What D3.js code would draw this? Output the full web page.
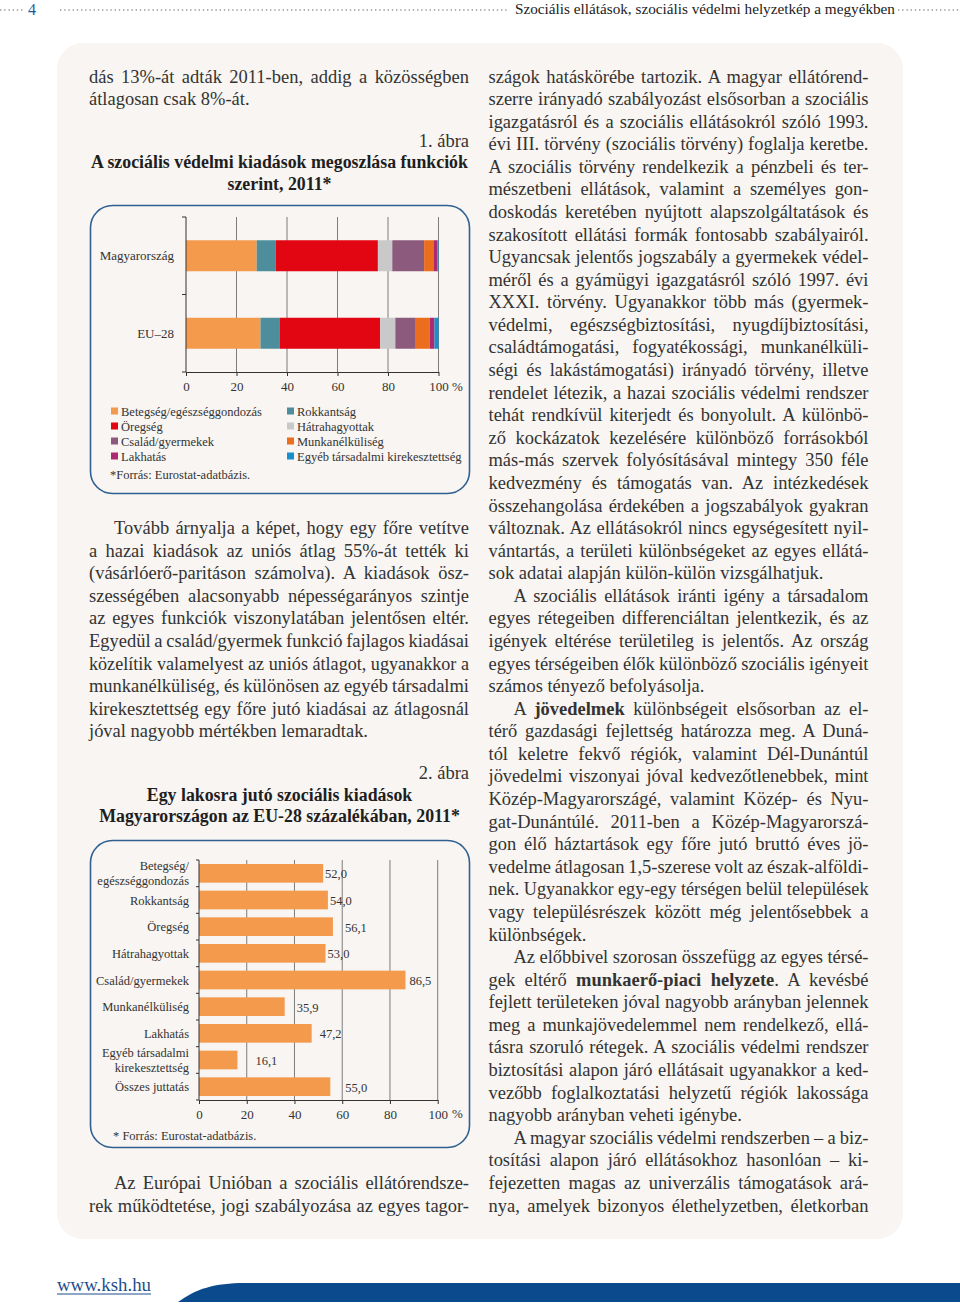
<!DOCTYPE html>
<html><head><meta charset="utf-8">
<script src="https://cdn.jsdelivr.net/npm/d3@7"></script>
<style>
body{margin:0;background:#fff;}
svg text{font-family:"Liberation Serif","DejaVu Serif",serif;}
</style></head><body>
<svg id="page" width="960" height="1308"></svg>
<script>
// ---------------- DATA ----------------
// Figure 1: distribution of social protection expenditure by function, 2011 (%)
const functions1 = ["Betegség/egészséggondozás","Rokkantság","Öregség","Hátrahagyottak","Család/gyermekek","Munkanélküliség","Lakhatás","Egyéb társadalmi kirekesztettség"];
const countries1 = ["Magyarország","EU–28"];
const huShares = [28.0, 7.6, 40.4, 5.7, 12.6, 3.7, 1.6, 0.4];
const euShares = [29.5, 7.7, 39.7, 6.0, 8.1, 5.5, 1.9, 1.6];
const colors1 = ["#f39a4c","#4e8e9c","#e20612","#c9c9c9","#8c5a7d","#ea6e1d","#ae2a70","#1b8ecc"];
const xTicks = [0,20,40,60,80,100];
// Figure 2: per capita social expenditure in Hungary as % of EU-28, 2011
const categories2 = ["Betegség/\negészséggondozás","Rokkantság","Öregség","Hátrahagyottak","Család/gyermekek","Munkanélküliség","Lakhatás","Egyéb társadalmi\nkirekesztettség","Összes juttatás"];
const values2 = [52.0, 54.0, 56.1, 53.0, 86.5, 35.9, 47.2, 16.1, 55.0];
// layout only: horizontal nudges of the value labels as in the original
const labelNudge = [2, 2, 12, 2, 4, 12, 8, 18, 15];

// ---------------- TEXT ----------------
const leftTop = {indent:false, cont:false, lines:[
 "dás 13%-át adták 2011-ben, addig a közösségben",
 "átlagosan csak 8%-át."]};
const leftMid = {indent:true, cont:false, lines:[
 "Tovább árnyalja a képet, hogy egy főre vetítve",
 "a hazai kiadások az uniós átlag 55%-át tették ki",
 "(vásárlóerő-paritáson számolva). A kiadások ösz-",
 "szességében alacsonyabb népességarányos szintje",
 "az egyes funkciók viszonylatában jelentősen eltér.",
 "Egyedül a család/gyermek funkció fajlagos kiadásai",
 "közelítik valamelyest az uniós átlagot, ugyanakkor a",
 "munkanélküliség, és különösen az egyéb társadalmi",
 "kirekesztettség egy főre jutó kiadásai az átlagosnál",
 "jóval nagyobb mértékben lemaradtak."]};
const leftBottom = {indent:true, cont:true, lines:[
 "Az Európai Unióban a szociális ellátórendsze-",
 "rek működtetése, jogi szabályozása az egyes tagor-"]};
const rightCol = [
 {indent:false, cont:false, lines:[
 "szágok hatáskörébe tartozik. A magyar ellátórend-",
 "szerre irányadó szabályozást elsősorban a szociális",
 "igazgatásról és a szociális ellátásokról szóló 1993.",
 "évi III. törvény (szociális törvény) foglalja keretbe.",
 "A szociális törvény rendelkezik a pénzbeli és ter-",
 "mészetbeni ellátások, valamint a személyes gon-",
 "doskodás keretében nyújtott alapszolgáltatások és",
 "szakosított ellátási formák fontosabb szabályairól.",
 "Ugyancsak jelentős jogszabály a gyermekek védel-",
 "méről és a gyámügyi igazgatásról szóló 1997. évi",
 "XXXI. törvény. Ugyanakkor több más (gyermek-",
 "védelmi, egészségbiztosítási, nyugdíjbiztosítási,",
 "családtámogatási, fogyatékossági, munkanélküli-",
 "ségi és lakástámogatási) irányadó törvény, illetve",
 "rendelet létezik, a hazai szociális védelmi rendszer",
 "tehát rendkívül kiterjedt és bonyolult. A különbö-",
 "ző kockázatok kezelésére különböző forrásokból",
 "más-más szervek folyósításával mintegy 350 féle",
 "kedvezmény és támogatás van. Az intézkedések",
 "összehangolása érdekében a jogszabályok gyakran",
 "változnak. Az ellátásokról nincs egységesített nyil-",
 "vántartás, a területi különbségeket az egyes ellátá-",
 "sok adatai alapján külön-külön vizsgálhatjuk."]},
 {indent:true, cont:false, lines:[
 "A szociális ellátások iránti igény a társadalom",
 "egyes rétegeiben differenciáltan jelentkezik, és az",
 "igények eltérése területileg is jelentős. Az ország",
 "egyes térségeiben élők különböző szociális igényeit",
 "számos tényező befolyásolja."]},
 {indent:true, cont:false, lines:[
 "A **jövedelmek** különbségeit elsősorban az el-",
 "térő gazdasági fejlettség határozza meg. A Duná-",
 "tól keletre fekvő régiók, valamint Dél-Dunántúl",
 "jövedelmi viszonyai jóval kedvezőtlenebbek, mint",
 "Közép-Magyarországé, valamint Közép- és Nyu-",
 "gat-Dunántúlé. 2011-ben a Közép-Magyarorszá-",
 "gon élő háztartások egy főre jutó bruttó éves jö-",
 "vedelme átlagosan 1,5-szerese volt az észak-alföldi-",
 "nek. Ugyanakkor egy-egy térségen belül települések",
 "vagy településrészek között még jelentősebbek a",
 "különbségek."]},
 {indent:true, cont:false, lines:[
 "Az előbbivel szorosan összefügg az egyes térsé-",
 "gek eltérő **munkaerő-piaci helyzete**. A kevésbé",
 "fejlett területeken jóval nagyobb arányban jelennek",
 "meg a munkajövedelemmel nem rendelkező, ellá-",
 "tásra szoruló rétegek. A szociális védelmi rendszer",
 "biztosítási alapon járó ellátásait ugyanakkor a ked-",
 "vezőbb foglalkoztatási helyzetű régiók lakossága",
 "nagyobb arányban veheti igénybe."]},
 {indent:true, cont:true, lines:[
 "A magyar szociális védelmi rendszerben – a biz-",
 "tosítási alapon járó ellátásokhoz hasonlóan – ki-",
 "fejezetten magas az univerzális támogatások ará-",
 "nya, amelyek bizonyos élethelyzetben, életkorban"]}
];

// ---------------- DRAW ----------------
const svg = d3.select("#page");
const ink = "#333";
const frameColor = "#2f6090";

// page panel
svg.append("rect").attr("x",57).attr("y",43).attr("width",846).attr("height",1196)
  .attr("rx",26).attr("fill","#f8f5f2");

// header
function dots(x1,x2,y){
  svg.append("line").attr("x1",x1).attr("x2",x2).attr("y1",y).attr("y2",y)
    .attr("stroke","#9a9a9a").attr("stroke-width",1.6).attr("stroke-dasharray","1.4,2.8");
}
dots(0,24,10); dots(60,509,10); dots(898,960,10);
svg.append("text").attr("x",28).attr("y",15).attr("font-size",16).attr("fill","#1f5c9e").text("4");
svg.append("text").attr("x",515).attr("y",14).attr("font-size",14.5).attr("fill","#222")
  .attr("textLength",380).attr("lengthAdjust","spacingAndGlyphs")
  .text("Szociális ellátások, szociális védelmi helyzetkép a megyékben");

// body font calibration
const probe = svg.append("text").attr("font-size",100).text("jóval nagyobb mértékben lemaradtak.");
let bodySize = 100*279/probe.node().getComputedTextLength();
bodySize = Math.max(15, Math.min(18.5, bodySize));
probe.remove();
// bold title calibration
const probeB = svg.append("text").attr("font-size",100).attr("font-weight","bold").text("A szociális védelmi kiadások megoszlása funkciók");
let titleSize = 100*377/probeB.node().getComputedTextLength();
titleSize = Math.max(14, Math.min(18.5, titleSize));
probeB.remove();

const lineStep = 22.58, gridTop = 77, baseOff = 5.5, indentW = 25;
function addLine(x, yc, width, str, justify){
  const t = svg.append("text").attr("x",x).attr("y",yc+baseOff).attr("font-size",bodySize).attr("fill",ink);
  str.split("**").forEach((seg,k)=>{ if(seg) t.append("tspan").attr("font-weight",k%2?"bold":null).text(seg); });
  if(justify){
    const w = t.node().getComputedTextLength();
    const spaces = (str.match(/ /g)||[]).length;
    const extra = width - w;
    if(spaces>0 && extra/spaces > -1.2) t.style("word-spacing",(extra/spaces)+"px");
    else t.attr("textLength",width).attr("lengthAdjust","spacingAndGlyphs");
  }
}
function drawPara(p, x0, width, startRow){
  p.lines.forEach((ln,i)=>{
    const ind = (i===0 && p.indent) ? indentW : 0;
    const last = i===p.lines.length-1 && !p.cont;
    addLine(x0+ind, gridTop+(startRow+i)*lineStep, width-ind, ln, !last);
  });
  return startRow + p.lines.length;
}
const colW = 380;
drawPara(leftTop, 89, colW, 0);
drawPara(leftMid, 89, colW, 20);
drawPara(leftBottom, 89, colW, 49);
let row = 0;
rightCol.forEach(p=>{ row = drawPara(p, 488.5, colW, row); });

// captions
function caption(txt, x, yc, anchor, bold){
  svg.append("text").attr("x",x).attr("y",yc+baseOff).attr("font-size",bold?titleSize:bodySize)
    .attr("text-anchor",anchor).attr("font-weight",bold?"bold":null).attr("fill",bold?"#1e1e1e":ink).text(txt);
}
caption("1. ábra", 469, 141, "end", false);
caption("A szociális védelmi kiadások megoszlása funkciók", 279.5, 162, "middle", true);
caption("szerint, 2011*", 279.5, 184, "middle", true);
caption("2. ábra", 469, 773, "end", false);
caption("Egy lakosra jutó szociális kiadások", 279.5, 795, "middle", true);
caption("Magyarországon az EU-28 százalékában, 2011*", 279.5, 816, "middle", true);

const small = 13;
const gridColor = "#7d7d7d";

// ---------- Figure 1 ----------
const g1 = svg.append("g");
g1.append("rect").attr("x",90.5).attr("y",205.5).attr("width",379).attr("height",288).attr("rx",22)
  .attr("fill","none").attr("stroke",frameColor).attr("stroke-width",1.6);
const x1 = d3.scaleLinear().domain([0,100]).range([186,438.5]);
const y1 = d3.scaleBand().domain(countries1).range([217,372]).paddingInner(0.6).paddingOuter(0.3);
const table1 = countries1.map((c,ci)=>{
  const o = {country:c};
  functions1.forEach((f,fi)=>{ o[f] = (ci===0?huShares:euShares)[fi]; });
  return o;
});
const stacked = d3.stack().keys(functions1)(table1);
// grid
g1.selectAll(".grid").data(xTicks.slice(1)).join("line")
  .attr("x1",d=>x1(d)).attr("x2",d=>x1(d)).attr("y1",217).attr("y2",372)
  .attr("stroke",gridColor).attr("stroke-width",1);
// bars
stacked.forEach((layer,li)=>{
  g1.selectAll(null).data(layer).join("rect")
    .attr("x",d=>x1(d[0])).attr("width",d=>x1(d[1])-x1(d[0]))
    .attr("y",d=>y1(d.data.country)).attr("height",y1.bandwidth())
    .attr("fill",colors1[li]);
});
// axes
const xAxis1 = g1.append("g").attr("transform","translate(0,372)")
  .call(d3.axisBottom(x1).tickValues(xTicks).tickSize(4).tickSizeOuter(0));
xAxis1.select(".domain").attr("stroke","#333");
xAxis1.selectAll(".tick line").attr("stroke","#333");
xAxis1.selectAll(".tick text").attr("font-family","Liberation Serif").attr("font-size",small).attr("fill",ink).attr("dy","0.9em");
g1.append("text").attr("x",452).attr("y",390.5).attr("font-size",small).attr("fill",ink).text("%");
g1.append("line").attr("x1",186).attr("x2",186).attr("y1",217).attr("y2",372).attr("stroke","#333");
[0,1,2].forEach(k=>{
  const yy = 217 + k*(372-217)/2;
  g1.append("line").attr("x1",182).attr("x2",186).attr("y1",yy).attr("y2",yy).attr("stroke","#333");
});
countries1.forEach(c=>{
  g1.append("text").attr("x",174).attr("y",y1(c)+y1.bandwidth()/2+4.5).attr("text-anchor","end")
    .attr("font-size",small).attr("fill",ink).text(c);
});
// legend
functions1.forEach((f,i)=>{
  const col = i%2, r = Math.floor(i/2);
  const lx = col===0 ? 111 : 287, ly = 411 + r*15;
  g1.append("rect").attr("x",lx).attr("y",ly-3.5).attr("width",7).attr("height",7).attr("fill",colors1[i]);
  g1.append("text").attr("x",lx+10).attr("y",ly+4.5).attr("font-size",12.5).attr("fill",ink).text(f);
});
g1.append("text").attr("x",110).attr("y",478.5).attr("font-size",12.5).attr("fill",ink).text("*Forrás: Eurostat-adatbázis.");

// ---------- Figure 2 ----------
const g2 = svg.append("g");
g2.append("rect").attr("x",90.5).attr("y",840.5).attr("width",379).attr("height",307).attr("rx",22)
  .attr("fill","none").attr("stroke",frameColor).attr("stroke-width",1.6);
const x2 = d3.scaleLinear().domain([0,100]).range([199,437.7]);
const y2 = d3.scaleBand().domain(categories2).range([860,1100]).paddingInner(0.3).paddingOuter(0.15);
g2.selectAll(".grid").data(xTicks.slice(1)).join("line")
  .attr("x1",d=>x2(d)).attr("x2",d=>x2(d)).attr("y1",860).attr("y2",1100)
  .attr("stroke",gridColor).attr("stroke-width",1);
g2.selectAll(".bar").data(values2).join("rect")
  .attr("x",x2(0)).attr("width",d=>x2(d)-x2(0))
  .attr("y",(d,i)=>y2(categories2[i])).attr("height",y2.bandwidth())
  .attr("fill","#f39a4c");
const fmt = d3.formatLocale({decimal:",",thousands:" ",grouping:[3],currency:["",""]}).format(".1f");
g2.selectAll(".val").data(values2).join("text")
  .attr("x",(d,i)=>x2(d)+labelNudge[i])
  .attr("y",(d,i)=>y2(categories2[i])+y2.bandwidth()/2+5)
  .attr("font-size",12.5).attr("fill",ink).text(d=>fmt(d));
const xAxis2 = g2.append("g").attr("transform","translate(0,1100)")
  .call(d3.axisBottom(x2).tickValues(xTicks).tickSize(4).tickSizeOuter(0));
xAxis2.select(".domain").attr("stroke","#333");
xAxis2.selectAll(".tick line").attr("stroke","#333");
xAxis2.selectAll(".tick text").attr("font-family","Liberation Serif").attr("font-size",small).attr("fill",ink).attr("dy","0.9em");
g2.append("text").attr("x",452).attr("y",1117.5).attr("font-size",small).attr("fill",ink).text("%");
g2.append("line").attr("x1",199).attr("x2",199).attr("y1",860).attr("y2",1100).attr("stroke","#333");
const step2 = y2.step();
d3.range(categories2.length+1).forEach(k=>{
  const yy = 860 + k*step2;
  g2.append("line").attr("x1",196).attr("x2",199).attr("y1",yy).attr("y2",yy).attr("stroke","#333");
});
categories2.forEach(c=>{
  const parts = c.split("\n");
  const yc = y2(c)+y2.bandwidth()/2;
  parts.forEach((p,j)=>{
    g2.append("text").attr("x",189).attr("y",yc+4.5+(j-(parts.length-1)/2)*15)
      .attr("text-anchor","end").attr("font-size",12.5).attr("fill",ink).text(p);
  });
});
g2.append("text").attr("x",113).attr("y",1139.5).attr("font-size",12.5).attr("fill",ink).text("* Forrás: Eurostat-adatbázis.");

// footer
svg.append("text").attr("x",57).attr("y",1291).attr("font-size",19).attr("fill","#1f4f8e")
  .attr("textLength",94).attr("lengthAdjust","spacingAndGlyphs").text("www.ksh.hu");
svg.append("line").attr("x1",57).attr("x2",151).attr("y1",1294).attr("y2",1294).attr("stroke","#1f4f8e").attr("stroke-width",1);
svg.append("path").attr("d","M178,1302 C196,1289 214,1283 245,1283 L960,1283 L960,1302 Z").attr("fill","#0b4b8d");
</script>
</body></html>
